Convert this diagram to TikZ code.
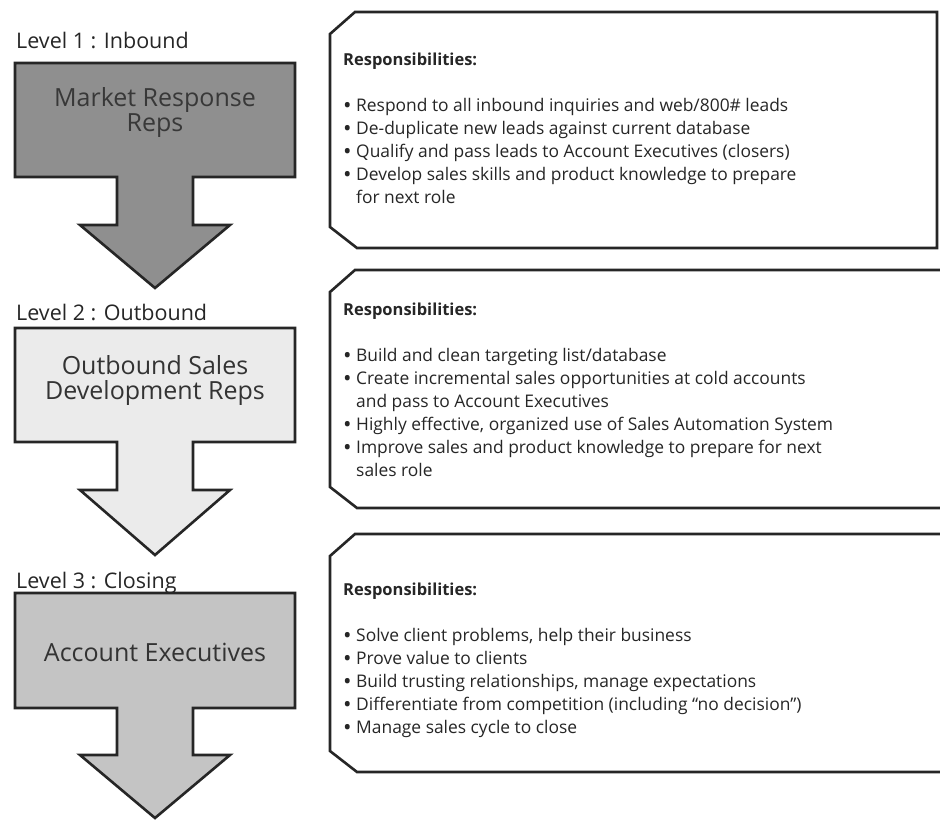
\documentclass[tikz,border=0pt]{standalone}
\usepackage{fontspec}
\setmainfont{Open Sans}
\newcommand\itembul{\makebox[12pt][l]{\textbf{•}}}
\newcommand\itemcont{\hspace*{12pt}}
\begin{document}
\begin{tikzpicture}[x=1pt,y=-1pt,
  shapeline/.style={draw=black!85, line width=2.6pt, line join=miter},
  levelarrow/.style={shapeline},
  respbox/.style={shapeline, fill=white},
  levellabel/.style={anchor=base west, inner sep=0pt, font=\fontsize{21.5}{24}\selectfont, text=black!85},
  rolelabel/.style={align=center, inner sep=0pt, font=\fontsize{25}{25}\selectfont, text=black!80},
  resphead/.style={anchor=base west, inner sep=0pt, font=\fontsize{16.5}{18}\selectfont\bfseries, text=black!85},
  respline/.style={anchor=base west, inner sep=0pt, font=\fontsize{17.4}{18}\selectfont, text=black!85}
]
\useasboundingbox (0,0) rectangle (940,820);
\clip (0,0) rectangle (940,820);
\fill[white] (0,0) rectangle (940,820);

% ---------- level arrows ----------
\draw[levelarrow, fill=black!44]
  (15,63) -- (295,63) -- (295,177) -- (193,177) -- (193,225) -- (230,225)
  -- (155,288) -- (80,225) -- (117,225) -- (117,177) -- (15,177) -- cycle;
\draw[levelarrow, fill=black!8]
  (15,328) -- (295,328) -- (295,442) -- (193,442) -- (193,490) -- (230,490)
  -- (155,555) -- (80,490) -- (117,490) -- (117,442) -- (15,442) -- cycle;
\draw[levelarrow, fill=black!23]
  (15,593) -- (295,593) -- (295,708) -- (193,708) -- (193,755) -- (230,755)
  -- (155,818) -- (80,755) -- (117,755) -- (117,708) -- (15,708) -- cycle;

\node[levellabel] (lv1) at (16,48) {Level 1 : Inbound};
\node[levellabel] (lv2) at (16,320) {Level 2 : Outbound};
\node[levellabel] (lv3) at (16,588) {Level 3 : Closing};

\node[rolelabel, text=black!78] (role1) at (155,113) {Market Response\\Reps};
\node[rolelabel] (role2) at (155,380) {Outbound Sales\\Development Reps};
\node[rolelabel] (role3) at (155,652) {Account Executives};

% ---------- responsibility boxes ----------
\draw[respbox] (355,12) -- (937,12) -- (937,248) -- (357,248) -- (330,227) -- (330,34) -- cycle;
\draw[respbox] (355,270) -- (960,270) -- (960,508) -- (357,508) -- (330,487) -- (330,292) -- cycle;
\draw[respbox] (355,534) -- (960,534) -- (960,772) -- (357,772) -- (330,751) -- (330,556) -- cycle;

\node[resphead] (h1) at (343,65) {Responsibilities:};
\foreach \txt [count=\i] in {
  {\itembul Respond to all inbound inquiries and web/800\# leads},
  {\itembul De-duplicate new leads against current database},
  {\itembul Qualify and pass leads to Account Executives (closers)},
  {\itembul Develop sales skills and product knowledge to prepare},
  {\itemcont for next role}}
  \node[respline] (a\i) at (344,111+23*\i-23) {\txt};

\node[resphead] (h2) at (343,315) {Responsibilities:};
\foreach \txt [count=\i] in {
  {\itembul Build and clean targeting list/database},
  {\itembul Create incremental sales opportunities at cold accounts},
  {\itemcont and pass to Account Executives},
  {\itembul Highly effective, organized use of Sales Automation System},
  {\itembul Improve sales and product knowledge to prepare for next},
  {\itemcont sales role}}
  \node[respline] (b\i) at (344,361+23*\i-23) {\txt};

\node[resphead] (h3) at (343,595) {Responsibilities:};
\foreach \txt [count=\i] in {
  {\itembul Solve client problems, help their business},
  {\itembul Prove value to clients},
  {\itembul Build trusting relationships, manage expectations},
  {\itembul Differentiate from competition (including “no decision”)},
  {\itembul Manage sales cycle to close}}
  \node[respline] (c\i) at (344,641+23*\i-23) {\txt};
\end{tikzpicture}
\end{document}
